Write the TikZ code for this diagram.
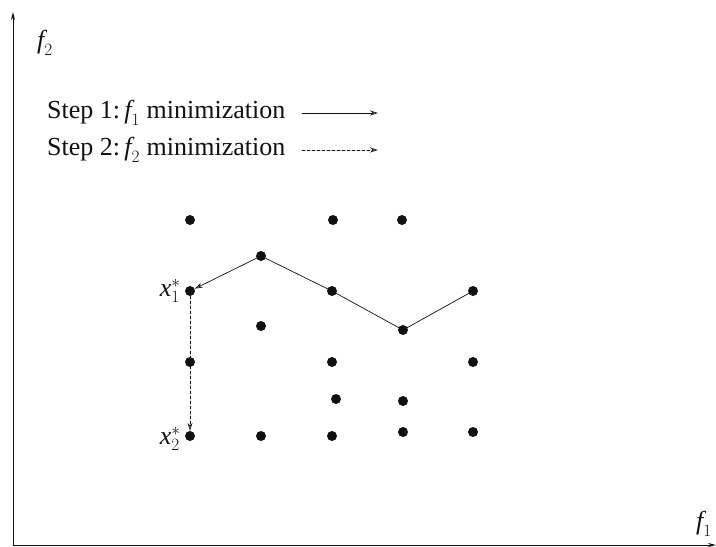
\documentclass[tikz,border=0pt]{standalone}
\usepackage{fontspec}
\setmainfont{Liberation Serif}
\usetikzlibrary{arrows.meta,positioning}
\definecolor{ink}{HTML}{111111}
\newcommand{\itv}[1]{\mbox{\itshape #1}}
\tikzset{
  figbase/.style={x=1pt, y=-1pt, font=\fontsize{26}{29}\selectfont, color=ink, line cap=round},
  arr/.style={-{Stealth[open,length=8pt,width=5pt]}, line width=0.7pt, draw=ink},
  arrd/.style={arr, densely dashed},
  axisline/.style={-{Stealth[length=8pt,width=4pt]}, line width=0.9pt, draw=ink},
  dot/.style={circle, fill=ink, inner sep=0pt, minimum size=10pt},
  lab/.style={inner sep=1pt, text=ink},
}
\begin{document}
\begin{tikzpicture}[figbase]
  \useasboundingbox (0,0) rectangle (716,547);
  % axes
  \coordinate (o) at (13,545);
  \coordinate (ytip) at (13,12);
  \coordinate (xtip) at (716,545);
  \draw[axisline] (o) -- (ytip);
  \draw[axisline] (o) -- (xtip);
  \node[lab] (f2) at (45,43) {$\itv{f}_2$};
  \node[lab] (f1) at (704,524) {$\itv{f}_1$};

  % legend
  \node[lab, anchor=west] (step1) at (46,113) {Step 1:\,$\itv{f}_1$ minimization};
  \node[lab, anchor=west] (step2) at (46,150) {Step 2:\,$\itv{f}_2$ minimization};
  \coordinate (s1a) at (302,113);
  \coordinate (s1b) at (378,113);
  \coordinate (s2a) at (302,150);
  \coordinate (s2b) at (378,150);
  \draw[arr] (s1a) -- (s1b);
  \draw[arrd] (s2a) -- (s2b);

  % points
  \foreach \n/\px/\py in {a/190/220, b/333/220, c/402/220,
                          p1/261/256,
                          x1/190/291, p2/332/291, p5/473/291,
                          d/261/326, p3/403/330,
                          e/190/362, f/332/362, g/473/362,
                          h/336/399, i/403/401,
                          x2/190/436, j/261/436, k/332/436, l/403/432, m/473/432}
    \node[dot] (\n) at (\px,\py) {};

  \node[lab, left=3pt of x1] (x1lab) {$\itv{x}_1^*$};
  \node[lab, left=3pt of x2, yshift=-3pt] (x2lab) {$\itv{x}_2^*$};

  % step 1 path
  \draw[line width=0.7pt] (p5.center) -- (p3.center) -- (p2.center) -- (p1.center);
  \draw[arr] (p1.center) -- (x1);
  % step 2 path
  \draw[arrd] (x1.center) -- (x2);
\end{tikzpicture}
\end{document}
